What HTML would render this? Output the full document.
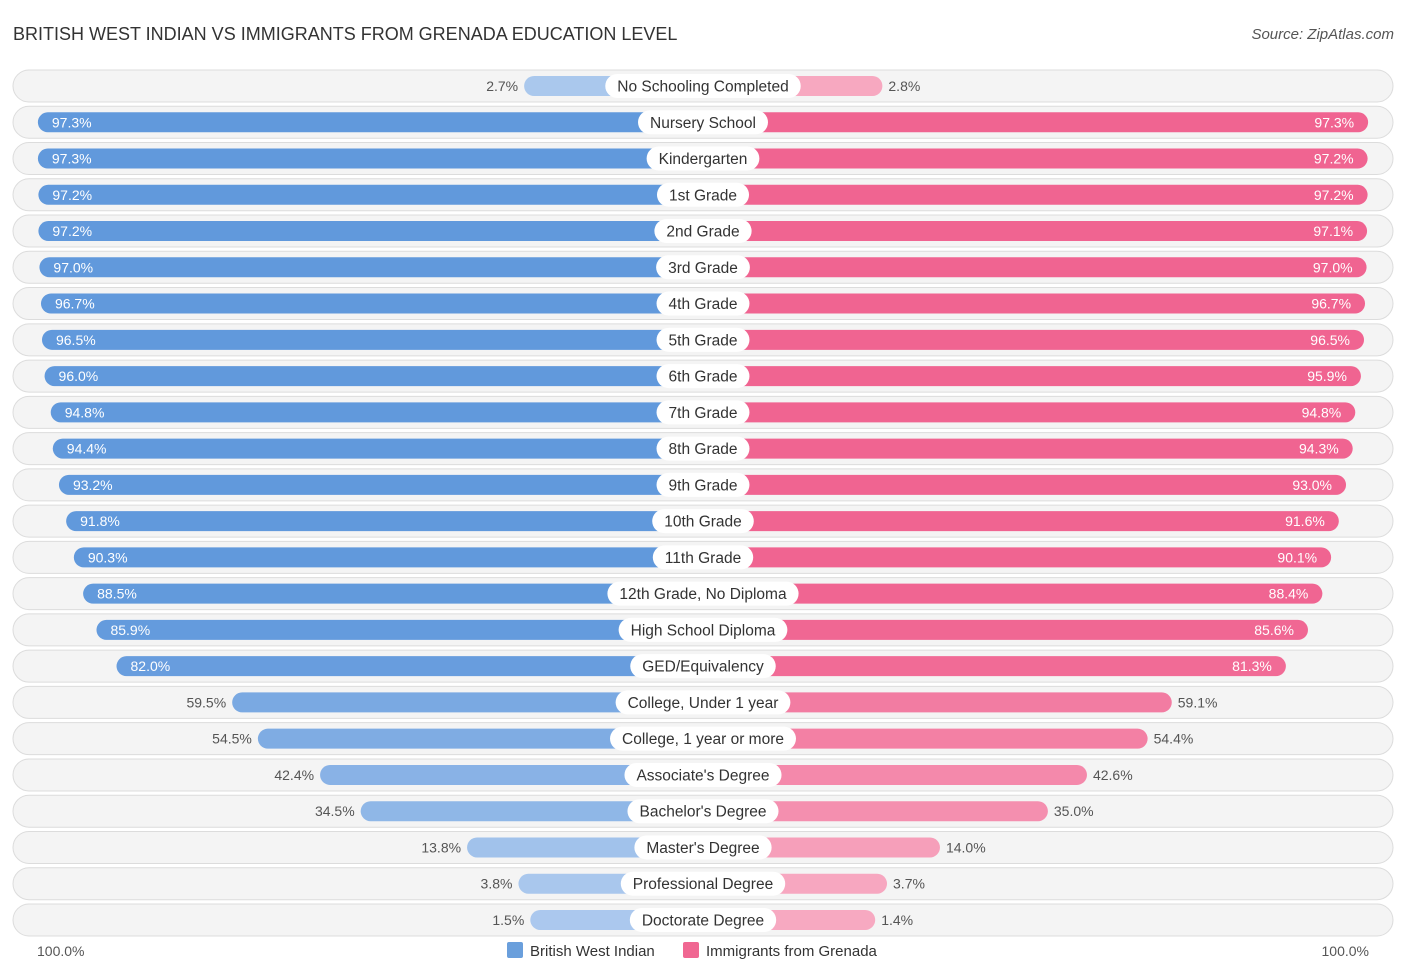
<!DOCTYPE html>
<html><head><meta charset="utf-8"><style>
body{margin:0;background:#fff;font-family:"Liberation Sans",Arial,sans-serif;}
svg text{font-family:"Liberation Sans",Arial,sans-serif;}
</style></head><body>
<svg id="chart" width="1406" height="975" xmlns="http://www.w3.org/2000/svg">
<text x="13" y="40" font-size="18" fill="#333">BRITISH WEST INDIAN VS IMMIGRANTS FROM GRENADA EDUCATION LEVEL</text>
<text x="1394" y="39" font-size="15" fill="#555" font-style="italic" text-anchor="end">Source: ZipAtlas.com</text>
<g id="rows"></g>
<text x="37" y="956" font-size="14" fill="#555">100.0%</text>
<text x="1369" y="956" font-size="14" fill="#555" text-anchor="end">100.0%</text>
<g>
<rect x="507" y="942" width="16" height="16" rx="2" fill="#6a9fdc"/>
<text x="530" y="956" font-size="15" fill="#333">British West Indian</text>
<rect x="683" y="942" width="16" height="16" rx="2" fill="#f06792"/>
<text x="706" y="956" font-size="15" fill="#333">Immigrants from Grenada</text>
</g>
</svg>
<script>
const categories=["No Schooling Completed","Nursery School","Kindergarten","1st Grade","2nd Grade","3rd Grade","4th Grade","5th Grade","6th Grade","7th Grade","8th Grade","9th Grade","10th Grade","11th Grade","12th Grade, No Diploma","High School Diploma","GED/Equivalency","College, Under 1 year","College, 1 year or more","Associate's Degree","Bachelor's Degree","Master's Degree","Professional Degree","Doctorate Degree"];
const britishValues=[2.7,97.3,97.3,97.2,97.2,97.0,96.7,96.5,96.0,94.8,94.4,93.2,91.8,90.3,88.5,85.9,82.0,59.5,54.5,42.4,34.5,13.8,3.8,1.5];
const grenadaValues=[2.8,97.3,97.2,97.2,97.1,97.0,96.7,96.5,95.9,94.8,94.3,93.0,91.6,90.1,88.4,85.6,81.3,59.1,54.4,42.6,35.0,14.0,3.7,1.4];
const NS="http://www.w3.org/2000/svg";
const cx=703,off=165,scale=5.14,y0=86,step=36.26;
function xl(v){return cx-off-scale*v;}
function xr(v){return cx+off+scale*v;}
function mix(a,b,t){return 'rgb('+a.map((c,i)=>Math.round(c+(b[i]-c)*t)).join(',')+')';}
function el(t,a,p){const e=document.createElementNS(NS,t);for(const k in a)e.setAttribute(k,a[k]);p.appendChild(e);return e;}
const g=document.getElementById('rows');
categories.forEach((c,i)=>{
 const y=y0+i*step;
 const row=el('g',{},g);
 
 
 const bg=el('rect',{x:13,y:y-16,width:1380,height:32,rx:16,fill:'#f4f4f4',stroke:'#dcdcdc','stroke-width':1},row);
 
 
 const bv=britishValues[i],gv=grenadaValues[i];
 const tb=Math.min(1,bv/90),tg=Math.min(1,gv/90);
 const b=el('rect',{x:xl(bv),y:y-10,width:cx-xl(bv),height:20,rx:10,fill:mix([172,201,238],[97,153,220],tb)},row);
 
 
 const p=el('rect',{x:cx,y:y-10,width:xr(gv)-cx,height:20,rx:10,fill:mix([247,170,194],[240,100,145],tg)},row);
 
 
 const inB=bv>70,inG=gv>70;
 const lb=el('text',{x:inB?xl(bv)+14:xl(bv)-6,y:y+5,'font-size':14,fill:inB?'#fff':'#555','text-anchor':inB?'start':'end'},row);
 lb.textContent=bv.toFixed(1)+'%';
 
 
 const lg=el('text',{x:inG?xr(gv)-14:xr(gv)+6,y:y+5,'font-size':14,fill:inG?'#fff':'#555','text-anchor':inG?'end':'start'},row);
 lg.textContent=gv.toFixed(1)+'%';
 
 
 const t=el('text',{x:cx,y:y+5.5,'font-size':15.5,fill:'#333','text-anchor':'middle'},row);
 t.textContent=c;
 const w=t.getComputedTextLength()+24;
 const pill=el('rect',{x:cx-w/2,y:y-12,width:w,height:24,rx:12,fill:'#fff'},row);
 
 
 row.appendChild(t);
 
 
});
</script>
</body></html>
